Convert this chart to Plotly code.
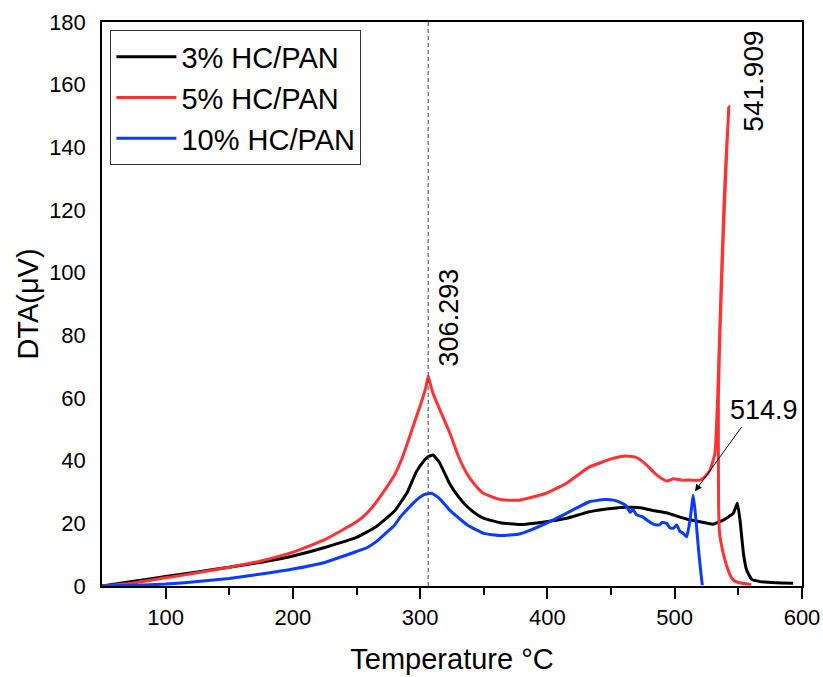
import plotly.graph_objects as go

# ---------------- data ----------------
x_3 = [50, 75, 100, 125, 150, 175, 200, 225, 250, 265, 280, 290, 297, 303, 306, 310, 315, 323,
       330, 337, 344, 350, 363, 378, 399, 415, 433, 452, 462, 473, 484, 494, 504, 510, 520, 530,
       538, 546, 549.2, 551.3, 554, 556.5, 560.5, 567, 580, 593]
y_3 = [0, 1.5, 3.0, 4.5, 6.0, 7.6, 9.6, 12.3, 15.5, 18.8, 24, 30, 36.5, 40, 41.2, 41.8, 39.5, 32.8,
       28.5, 25.3, 23, 21.6, 20.2, 19.6, 20.5, 21.6, 23.7, 24.8, 25.1, 25, 24, 23.3, 22, 21.3, 20.5, 19.7,
       21, 23.2, 26.4, 21, 10.4, 5.1, 2.1, 1.4, 1.0, 0.85]

x_5 = [50, 75, 100, 125, 150, 175, 200, 225, 250, 258, 265, 272, 280, 286, 292, 297, 302, 304.5,
       306.3, 308, 310, 315.5, 323.4, 330, 336.5, 343, 349.6, 362.7, 378, 399, 415, 433, 452, 462,
       470, 477, 483, 490, 494, 499, 505, 512, 520, 524, 527.7, 531.6, 533.7, 536, 538.5, 542.5,
       541, 538, 535.5, 534.3, 534.3, 534.5, 535.2, 537, 539, 541, 543.5, 546, 550, 556, 560]
y_5 = [0, 1.0, 2.6, 4.2, 6.0, 8.0, 10.8, 14.8, 20.5, 23.2, 26.5, 30.5, 35.5, 41, 48, 54, 60, 63.5,
       67, 64.5, 61.6, 56.2, 48.7, 41.5, 36, 32.3, 29.6, 27.6, 27.4, 29.6, 32.8, 38, 40.8, 41.5,
       41, 39, 36.5, 34.2, 33.5, 34.2, 33.8, 33.8, 33.8, 35, 37, 42.4, 60, 90, 120, 153,
       140, 110, 80, 60, 40, 25, 17, 12.5, 9, 6.2, 3.5, 1.9, 1.1, 0.7, 0.5]

x_10 = [50, 75, 100, 125, 150, 175, 200, 225, 250, 258, 265, 272, 280, 285, 290, 297, 303, 309,
        315, 323, 330, 337, 350, 363, 378, 399, 415, 433, 445, 452, 458, 462, 465, 467, 470, 475,
        480, 484, 488, 490, 493.7, 496, 499, 501.5, 504, 506.7, 509.4, 512, 514.6, 516.7, 518.5,
        520.6, 521.7]
y_10 = [0, 0.2, 0.6, 1.4, 2.4, 3.8, 5.4, 7.5, 11, 12.2, 14, 16.5, 19.5, 22.3, 24.5, 27.4, 29.2, 29.6,
        28, 24.3, 21.8, 19.5, 16.8, 16.1, 16.6, 20, 23.2, 26.9, 27.6, 27.4, 26.5, 25.5, 23.5, 24.5,
        22.7, 22, 20.5, 19.6, 19.5, 20.3, 20, 18.6, 18.4, 19.5, 17.5, 16.8, 15.7, 21, 29, 21, 12.5,
        4, 0.3]

series_names = ["3% HC/PAN", "5% HC/PAN", "10% HC/PAN"]
series_colors = ["#000000", "#ff3333", "#0a3cff"]

x_ticks = [100, 200, 300, 400, 500, 600]
x_minor_ticks = [150, 250, 350, 450, 550]
y_ticks = [0, 20, 40, 60, 80, 100, 120, 140, 160, 180]

peak1_x = 306.293
peak2_x, peak2_y = 541.909, 153
peak3_x, peak3_y = 514.9, 29

FONT = "Liberation Sans, Arial, sans-serif"

fig = go.Figure()
for xs, ys, name, col in zip([x_3, x_5, x_10], [y_3, y_5, y_10], series_names, series_colors):
    fig.add_trace(go.Scatter(x=xs, y=ys, mode="lines", name=name,
                             line=dict(color=col, width=3, shape="spline", smoothing=0.4)))

# dashed vertical reference line at the first peak
fig.add_shape(type="line", x0=peak1_x, x1=peak1_x, y0=0, y1=180, xref="x", yref="y",
              line=dict(color="#444444", width=1, dash="4px,3px"))

fig.add_annotation(x=peak1_x, y=69.5, xref="x", yref="y", text="306.293", showarrow=False,
                   textangle=-90, xanchor="left", yanchor="bottom", xshift=4,
                   font=dict(family=FONT, size=27, color="black"))
fig.add_annotation(x=548.5, y=144.5, xref="x", yref="y", text="541.909", showarrow=False,
                   textangle=-90, xanchor="left", yanchor="bottom",
                   font=dict(family=FONT, size=28, color="black"))
fig.add_annotation(x=peak3_x + 1, y=peak3_y + 1.2, xref="x", yref="y", ax=553.4, ay=51.2,
                   axref="x", ayref="y", text="", showarrow=True, arrowhead=2, arrowsize=1.4,
                   arrowwidth=1, arrowcolor="black")
fig.add_annotation(x=570, y=56.2, xref="x", yref="y", text="514.9", showarrow=False,
                   font=dict(family=FONT, size=27, color="black"))

fig.update_layout(
    width=823, height=677,
    margin=dict(l=102, r=21, t=22, b=91),
    paper_bgcolor="white", plot_bgcolor="white",
    font=dict(family=FONT, color="black"),
    showlegend=True,
    legend=dict(x=0.012, y=0.985, xanchor="left", yanchor="top",
                bgcolor="white", bordercolor="#333333", borderwidth=1,
                font=dict(family=FONT, size=29, color="black"),
                itemwidth=60, tracegroupgap=0, traceorder="normal"),
    xaxis=dict(range=[50, 600], tickvals=x_ticks, ticks="outside", ticklen=11, tickwidth=1.5,
               tickcolor="black", showline=True, linecolor="black", linewidth=1.5, mirror=True,
               showgrid=False, zeroline=False, automargin=False,
               tickfont=dict(family=FONT, size=22, color="black"),
               minor=dict(tickvals=x_minor_ticks, ticks="outside", ticklen=7,
                          tickwidth=1.5, tickcolor="black", showgrid=False),
               title=dict(text="Temperature \u00b0C", font=dict(family=FONT, size=29, color="black"),
                          standoff=20)),
    yaxis=dict(range=[0, 180], tickvals=y_ticks, ticks="", showline=True, linecolor="black",
               linewidth=1.5, mirror=True, showgrid=False, zeroline=False, automargin=False,
               tickfont=dict(family=FONT, size=22, color="black"), ticklabelstandoff=10,
               title=dict(text="DTA(\u03bcV)", font=dict(family=FONT, size=29, color="black"),
                          standoff=2)),
)

# remove the default page margin so the figure fills the window exactly
fig.write_html("out.html", config={"displayModeBar": False},
               post_script="document.body.style.margin='0px';document.body.style.overflow='hidden';")
